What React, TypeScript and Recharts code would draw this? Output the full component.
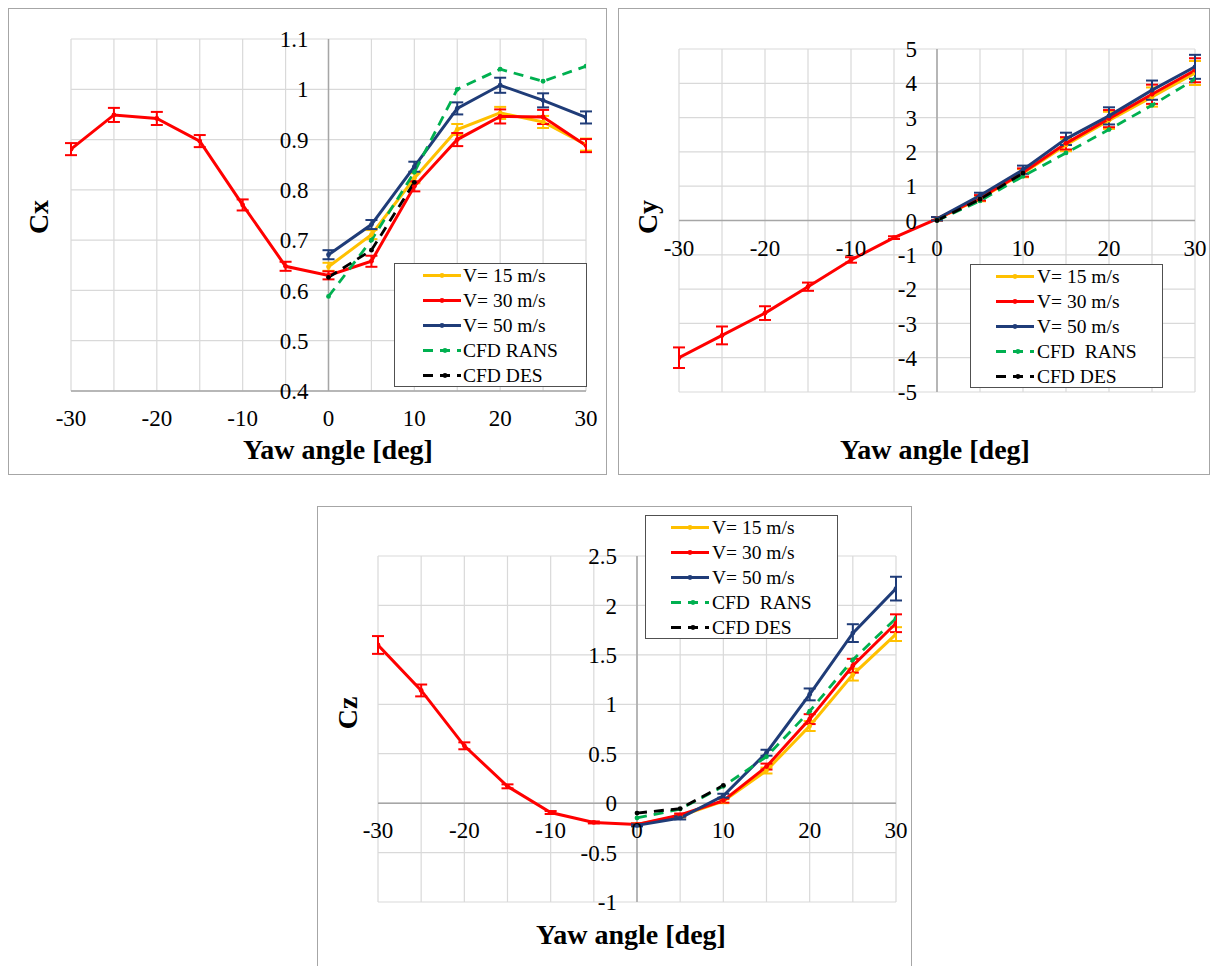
import React from "react";
import { LineChart, Line, XAxis, YAxis, ErrorBar, ReferenceLine, ReferenceDot } from "recharts";

// yaw angles: full sweep for V=30, positive side for the rest
const yawFull = [-30, -25, -20, -15, -10, -5, 0, 5, 10, 15, 20, 25, 30];
const yawPos = [0, 5, 10, 15, 20, 25, 30];
const yawDes = [0, 5, 10];
const xGridTicks = [-30, -25, -20, -15, -10, -5, 0, 5, 10, 15, 20, 25, 30];
const xLabelTicks = [-30, -20, -10, 0, 10, 20, 30];

// Cx
const cxV30 = [0.881, 0.949, 0.942, 0.897, 0.77, 0.648, 0.63, 0.658, 0.807, 0.9, 0.946, 0.945, 0.888];
const cxV30Err = [0.012, 0.014, 0.013, 0.012, 0.011, 0.009, 0.008, 0.011, 0.01, 0.013, 0.014, 0.014, 0.013];
const cxV15 = [0.647, 0.711, 0.823, 0.92, 0.953, 0.935, 0.89];
const cxV15Err = [0.008, 0.009, 0.01, 0.011, 0.012, 0.012, 0.012];
const cxV50 = [0.671, 0.731, 0.846, 0.962, 1.008, 0.978, 0.944];
const cxV50Err = [0.009, 0.009, 0.01, 0.012, 0.015, 0.014, 0.012];
const cxRans = [0.588, 0.7, 0.835, 1.0, 1.04, 1.016, 1.046];
const cxDes = [0.626, 0.68, 0.815];
const cxTicks = [0.4, 0.5, 0.6, 0.7, 0.8, 0.9, 1, 1.1];

// Cy
const cyV30 = [-4.0, -3.35, -2.7, -1.93, -1.15, -0.5, 0.05, 0.66, 1.4, 2.25, 2.97, 3.68, 4.38];
const cyV30Err = [0.3, 0.26, 0.2, 0.12, 0.08, 0.04, 0.05, 0.08, 0.12, 0.18, 0.25, 0.28, 0.35];
const cyV15 = [0.05, 0.64, 1.38, 2.2, 2.92, 3.6, 4.3];
const cyV15Err = [0.05, 0.08, 0.12, 0.18, 0.25, 0.28, 0.35];
const cyV50 = [0.05, 0.73, 1.48, 2.38, 3.05, 3.8, 4.48];
const cyV50Err = [0.05, 0.08, 0.12, 0.18, 0.25, 0.28, 0.35];
const cyRans = [0.0, 0.57, 1.29, 1.97, 2.65, 3.36, 4.12];
const cyDes = [0.0, 0.62, 1.38];
const cyTicks = [-5, -4, -3, -2, -1, 0, 1, 2, 3, 4, 5];

// Cz
const czV30 = [1.6, 1.14, 0.58, 0.17, -0.095, -0.195, -0.215, -0.12, 0.025, 0.37, 0.85, 1.39, 1.82];
const czV30Err = [0.09, 0.06, 0.035, 0.02, 0.015, 0.01, 0.01, 0.015, 0.02, 0.03, 0.05, 0.07, 0.09];
const czV15 = [-0.215, -0.13, 0.02, 0.33, 0.78, 1.3, 1.71];
const czV15Err = [0.01, 0.015, 0.02, 0.03, 0.05, 0.06, 0.07];
const czV50 = [-0.225, -0.15, 0.075, 0.51, 1.1, 1.72, 2.17];
const czV50Err = [0.01, 0.015, 0.02, 0.03, 0.06, 0.09, 0.12];
const czRans = [-0.15, -0.06, 0.17, 0.47, 0.93, 1.45, 1.87];
const czDes = [-0.1, -0.055, 0.18];
const czTicks = [-1, -0.5, 0, 0.5, 1, 1.5, 2, 2.5];

const serif = '"Liberation Serif", "Times New Roman", serif';
const C15 = "#FFC000";
const C30 = "#FF0000";
const C50 = "#1F3C78";
const CRANS = "#00B050";
const CDES = "#000000";

type SeriesSet = {
  v15: number[]; v15Err: number[];
  v30: number[]; v30Err: number[];
  v50: number[]; v50Err: number[];
  rans: number[]; des: number[];
};

function buildRows(s: SeriesSet) {
  return yawFull.map((yaw, i) => {
    const p = yawPos.indexOf(yaw);
    const d = yawDes.indexOf(yaw);
    return {
      yaw,
      v30: s.v30[i],
      v30Err: s.v30Err[i],
      v15: p >= 0 ? s.v15[p] : null,
      v15Err: p >= 0 ? s.v15Err[p] : null,
      v50: p >= 0 ? s.v50[p] : null,
      v50Err: p >= 0 ? s.v50Err[p] : null,
      rans: p >= 0 ? s.rans[p] : null,
      des: d >= 0 ? s.des[d] : null,
    };
  });
}

type Box = { x: number; y: number; w: number; h: number };

type PanelProps = {
  frame: Box;
  plot: { x1: number; x2: number; y1: number; y2: number };
  set: SeriesSet;
  yTicks: number[];
  xAxisAt: number;
  yName: string;
  yNamePos: [number, number];
  xNamePos: [number, number];
  legendPos: [number, number];
  legendInset: [number, number];
  ransLabel: string;
  openBottom?: boolean;
};

function LegendBox({ left, top, inset, ransLabel }: { left: number; top: number; inset: [number, number]; ransLabel: string }) {
  const items = [
    { label: "V= 15 m/s", color: C15, dashed: false },
    { label: "V= 30 m/s", color: C30, dashed: false },
    { label: "V= 50 m/s", color: C50, dashed: false },
    { label: ransLabel, color: CRANS, dashed: true },
    { label: "CFD DES", color: CDES, dashed: true },
  ];
  return (
    <div
      style={{
        position: "absolute",
        left,
        top,
        width: 193,
        height: 124,
        boxSizing: "border-box",
        border: "1.5px solid #505050",
        background: "#fff",
      }}
    >
      {items.map((it, i) => (
        <div key={it.label} style={{ position: "absolute", left: 0, top: i * 25 - 1, height: 25, width: "100%" }}>
          <svg width={40} height={25} style={{ position: "absolute", left: inset[0] - 1, top: 0 }}>
            <line
              x1={0}
              y1={12.5}
              x2={38}
              y2={12.5}
              stroke={it.color}
              strokeWidth={3}
              strokeDasharray={it.dashed ? "10 7" : undefined}
            />
            <circle cx={it.dashed ? 22 : 19} cy={12.5} r={2.4} fill={it.color} />
          </svg>
          <span
            style={{
              position: "absolute",
              left: inset[1] - 1,
              top: 0,
              lineHeight: "25px",
              fontFamily: serif,
              fontSize: 19.5,
              color: "#000",
              whiteSpace: "pre",
            }}
          >
            {it.label}
          </span>
        </div>
      ))}
    </div>
  );
}

function fmt(v: number) {
  return String(Math.round(v * 10) / 10);
}

function Panel(props: PanelProps) {
  const { frame, plot, set, yTicks, xAxisAt } = props;
  const rows = buildRows(set);
  const margin = {
    left: plot.x1 - frame.x,
    right: frame.x + frame.w - plot.x2,
    top: plot.y1 - frame.y,
    bottom: frame.y + frame.h - plot.y2,
  };
  const yDomain: [number, number] = [yTicks[0], yTicks[yTicks.length - 1]];
  const tickStyle = { fill: "#000", fontSize: 23, fontFamily: serif };
  const dotOf = (c: string) => ({ r: 2.4, fill: c, stroke: "none" });

  return (
    <div style={{ position: "absolute", left: frame.x, top: frame.y, width: frame.w, height: frame.h }}>
      <div
        style={{
          position: "absolute",
          inset: 0,
          boxSizing: "border-box",
          border: "1.5px solid #a6a6a6",
          borderBottom: props.openBottom ? "none" : "1.5px solid #a6a6a6",
        }}
      />
      <div style={{ position: "absolute", left: 0, top: 0 }}>
        <LineChart width={frame.w} height={frame.h} data={rows} margin={margin}>
          <XAxis
            dataKey="yaw"
            type="number"
            domain={[-30, 30]}
            ticks={xGridTicks}
            tick={false}
            tickLine={false}
            axisLine={false}
            height={0}
            allowDataOverflow
          />
          <YAxis
            type="number"
            domain={yDomain}
            ticks={yTicks}
            tick={false}
            tickLine={false}
            axisLine={false}
            width={0}
            allowDataOverflow
          />
          {xGridTicks.map((v) => (
            <ReferenceLine key={"gx" + v} x={v} stroke="#d9d9d9" strokeWidth={1.2} ifOverflow="visible" />
          ))}
          {yTicks.map((v) => (
            <ReferenceLine key={"gy" + v} y={v} stroke="#d9d9d9" strokeWidth={1.2} ifOverflow="visible" />
          ))}
          <ReferenceLine x={0} stroke="#a6a6a6" strokeWidth={1.5} ifOverflow="visible" />
          <ReferenceLine y={xAxisAt} stroke="#a6a6a6" strokeWidth={1.5} ifOverflow="visible" />
          {yTicks.map((v) => (
            <ReferenceDot
              key={"yl" + v}
              x={0}
              y={v}
              r={0}
              fill="none"
              stroke="none"
              ifOverflow="visible"
              label={{ value: fmt(v), position: "left", offset: 20, ...tickStyle }}
            />
          ))}
          {xLabelTicks.map((v) => (
            <ReferenceDot
              key={"xl" + v}
              x={v}
              y={xAxisAt}
              r={0}
              fill="none"
              stroke="none"
              ifOverflow="visible"
              label={{ value: String(v), position: "bottom", offset: 19, ...tickStyle }}
            />
          ))}
          <Line type="linear" dataKey="v15" stroke={C15} strokeWidth={3} dot={dotOf(C15)} activeDot={false} isAnimationActive={false}>
            <ErrorBar dataKey="v15Err" width={6} strokeWidth={2} stroke={C15} direction="y" isAnimationActive={false} />
          </Line>
          <Line type="linear" dataKey="v30" stroke={C30} strokeWidth={3} dot={dotOf(C30)} activeDot={false} isAnimationActive={false}>
            <ErrorBar dataKey="v30Err" width={6} strokeWidth={2} stroke={C30} direction="y" isAnimationActive={false} />
          </Line>
          <Line type="linear" dataKey="v50" stroke={C50} strokeWidth={3} dot={dotOf(C50)} activeDot={false} isAnimationActive={false}>
            <ErrorBar dataKey="v50Err" width={6} strokeWidth={2} stroke={C50} direction="y" isAnimationActive={false} />
          </Line>
          <Line
            type="linear"
            dataKey="rans"
            stroke={CRANS}
            strokeWidth={2.8}
            strokeDasharray="10 7"
            dot={dotOf(CRANS)}
            activeDot={false}
            isAnimationActive={false}
          />
          <Line
            type="linear"
            dataKey="des"
            stroke={CDES}
            strokeWidth={2.8}
            strokeDasharray="10 7"
            dot={dotOf(CDES)}
            activeDot={false}
            isAnimationActive={false}
          />
        </LineChart>
      </div>
      <div
        style={{
          position: "absolute",
          left: props.xNamePos[0] - frame.x,
          top: props.xNamePos[1] - frame.y,
          transform: "translate(-50%, -50%)",
          fontFamily: serif,
          fontWeight: "bold",
          fontSize: 28,
          whiteSpace: "nowrap",
          color: "#000",
        }}
      >
        Yaw angle [deg]
      </div>
      <div
        style={{
          position: "absolute",
          left: props.yNamePos[0] - frame.x,
          top: props.yNamePos[1] - frame.y,
          transform: "translate(-50%, -50%) rotate(-90deg)",
          fontFamily: serif,
          fontWeight: "bold",
          fontSize: 28,
          whiteSpace: "nowrap",
          color: "#000",
        }}
      >
        {props.yName}
      </div>
      <LegendBox
        left={props.legendPos[0] - frame.x}
        top={props.legendPos[1] - frame.y}
        inset={props.legendInset}
        ransLabel={props.ransLabel}
      />
    </div>
  );
}

export default function App() {
  return (
    <div style={{ position: "absolute", left: 0, top: 0, width: 1214, height: 966, overflow: "hidden", background: "#fff" }}>
      <Panel
        frame={{ x: 8, y: 8, w: 599, h: 467 }}
        plot={{ x1: 71, x2: 586, y1: 39, y2: 391 }}
        set={{ v15: cxV15, v15Err: cxV15Err, v30: cxV30, v30Err: cxV30Err, v50: cxV50, v50Err: cxV50Err, rans: cxRans, des: cxDes }}
        yTicks={cxTicks}
        xAxisAt={0.4}
        yName="Cx"
        yNamePos={[39, 217]}
        xNamePos={[338, 450]}
        legendPos={[394, 263]}
        legendInset={[29, 69]}
        ransLabel="CFD RANS"
      />
      <Panel
        frame={{ x: 618, y: 8, w: 592, h: 467 }}
        plot={{ x1: 679, x2: 1195, y1: 49, y2: 392 }}
        set={{ v15: cyV15, v15Err: cyV15Err, v30: cyV30, v30Err: cyV30Err, v50: cyV50, v50Err: cyV50Err, rans: cyRans, des: cyDes }}
        yTicks={cyTicks}
        xAxisAt={0}
        yName="Cy"
        yNamePos={[648, 217]}
        xNamePos={[935, 450]}
        legendPos={[970, 264]}
        legendInset={[26, 67]}
        ransLabel="CFD  RANS"
      />
      <Panel
        frame={{ x: 317, y: 506, w: 595, h: 460 }}
        plot={{ x1: 378, x2: 896, y1: 556, y2: 902 }}
        set={{ v15: czV15, v15Err: czV15Err, v30: czV30, v30Err: czV30Err, v50: czV50, v50Err: czV50Err, rans: czRans, des: czDes }}
        yTicks={czTicks}
        xAxisAt={0}
        yName="Cz"
        yNamePos={[348, 713]}
        xNamePos={[631, 935]}
        legendPos={[645, 515]}
        legendInset={[26, 67]}
        ransLabel="CFD  RANS"
        openBottom
      />
    </div>
  );
}
